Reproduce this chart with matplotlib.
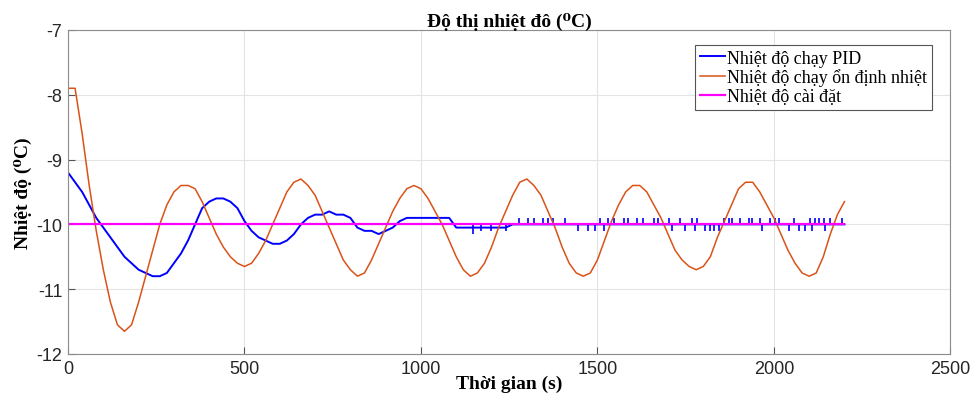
import matplotlib
matplotlib.use("Agg")
import matplotlib.pyplot as plt
import numpy as np

plt.rcParams['axes.unicode_minus'] = False

# orange: "on dinh nhiet" run, sampled every 20 s
orange_t = list(range(0, 2201, 20))
orange_v = [-7.9, -7.9, -8.6, -9.4, -10.1, -10.7, -11.2, -11.55, -11.65, -11.55,
            -11.2, -10.8, -10.4, -10.0, -9.7, -9.5, -9.4, -9.4, -9.45, -9.65,
            -9.9, -10.15, -10.35, -10.5, -10.6, -10.65, -10.6, -10.45, -10.25, -10.0,
            -9.75, -9.5, -9.35, -9.3, -9.4, -9.55, -9.8, -10.05, -10.3, -10.55,
            -10.7, -10.8, -10.75, -10.55, -10.3, -10.05, -9.8, -9.6, -9.45, -9.4,
            -9.45, -9.6, -9.8, -10.0, -10.25, -10.5, -10.7, -10.8, -10.75, -10.6,
            -10.35, -10.05, -9.8, -9.55, -9.35, -9.3, -9.4, -9.55, -9.8, -10.05,
            -10.35, -10.6, -10.75, -10.8, -10.75, -10.55, -10.25, -9.95, -9.7, -9.5,
            -9.4, -9.4, -9.5, -9.7, -9.9, -10.15, -10.4, -10.55, -10.65, -10.7,
            -10.65, -10.5, -10.2, -9.95, -9.7, -9.45, -9.35, -9.35, -9.5, -9.7,
            -9.9, -10.15, -10.4, -10.6, -10.75, -10.8, -10.75, -10.5, -10.15, -9.85,
            -9.65]

# blue: PID run
pid_t = [0, 20, 40, 60, 80, 100, 120, 140, 160, 180, 200, 220, 240, 260, 280,
         300, 320, 340, 360, 380, 400, 420, 440, 460, 480, 500, 520, 540, 560, 580,
         600, 620, 640, 660, 680, 700, 720, 740, 760, 780, 800, 820, 840, 860, 880,
         900, 920, 940, 960, 1080, 1100, 1240, 1260, 2200]
pid_v = [-9.2, -9.35, -9.5, -9.7, -9.9, -10.05, -10.2, -10.35, -10.5, -10.6,
         -10.7, -10.75, -10.8, -10.8, -10.75, -10.6, -10.45, -10.25, -10.0, -9.75,
         -9.65, -9.6, -9.6, -9.65, -9.75, -9.95, -10.1, -10.2, -10.25, -10.3,
         -10.3, -10.25, -10.15, -10.0, -9.9, -9.85, -9.85, -9.8, -9.85, -9.85,
         -9.9, -10.05, -10.1, -10.1, -10.15, -10.1, -10.05, -9.95, -9.9, -9.9,
         -10.05, -10.05, -10.0, -10.0]

# single-sample jumps of the PID curve around the set point
spike_t = [1147, 1170, 1199, 1241, 1278, 1304, 1321, 1346, 1360, 1375, 1407, 1446,
           1474, 1492, 1506, 1520, 1531, 1548, 1574, 1588, 1611, 1630, 1659, 1673,
           1702, 1710, 1733, 1747, 1767, 1776, 1781, 1804, 1818, 1829, 1844, 1858,
           1872, 1881, 1904, 1929, 1938, 1960, 1966, 1989, 2003, 2014, 2043, 2057,
           2071, 2088, 2102, 2108, 2117, 2128, 2142, 2145, 2159, 2193]
spike_v = [-10.15, -10.1, -10.1, -10.1, -9.9, -9.9, -9.9, -9.9, -9.9, -9.9, -9.9, -10.1,
           -10.1, -10.1, -9.9, -10.1, -9.9, -9.9, -9.9, -9.9, -9.9, -9.9, -9.9, -9.9,
           -9.9, -10.1, -9.9, -10.1, -9.9, -10.1, -9.9, -10.1, -10.1, -10.1, -10.1, -9.9,
           -9.9, -9.9, -9.9, -9.9, -9.9, -9.9, -10.1, -9.9, -9.9, -9.9, -10.1, -9.9,
           -10.1, -10.1, -9.9, -10.1, -9.9, -9.9, -9.9, -10.1, -9.9, -9.9]

setpoint_t = [0, 2200]
setpoint_v = [-10, -10]

serif = ['Liberation Serif', 'DejaVu Serif']
sans = ['Liberation Sans', 'DejaVu Sans']

fig = plt.figure(figsize=(9.76, 4.02), dpi=100)
ax = fig.add_axes([0.0697, 0.117, 0.904, 0.806])

ax.plot(pid_t, pid_v, color='#0000ff', lw=1.4, label='Nhiệt độ chạy PID')
ax.vlines(spike_t, -10, spike_v, color='#0000ff', lw=1.2)
ax.plot(orange_t, orange_v, color='#d95319', lw=1.1, label='Nhiệt độ chạy ổn định nhiệt')
ax.plot(setpoint_t, setpoint_v, color='#ff00ff', lw=1.6, label='Nhiệt độ cài đặt')

ax.set_xlim(0, 2500)
ax.set_ylim(-12, -7)
ax.set_xticks([0, 500, 1000, 1500, 2000, 2500])
ax.set_yticks([-12, -11, -10, -9, -8, -7])
ax.grid(True, color='#e3e3e3', lw=0.8)
ax.set_axisbelow(True)
for s in ax.spines.values():
    s.set_color('#8c8c8c')
    s.set_linewidth(0.8)
ax.tick_params(direction='in', length=5, color='#555555', labelcolor='#262626',
               labelsize=13, pad=4)
for lab in ax.get_xticklabels() + ax.get_yticklabels():
    lab.set_family(sans)

ax.set_title('Độ thị nhiệt đô (⁰C)', family=serif, fontweight='bold', fontsize=14, pad=3)
ax.set_xlabel('Thời gian (s)', family=serif, fontweight='bold', fontsize=14, labelpad=-1)
ax.set_ylabel('Nhiệt độ (⁰C)', family=serif, fontweight='bold', fontsize=14, labelpad=3)

leg = ax.legend(loc='upper right', prop={'family': serif, 'size': 13},
                handlelength=1.4, handletextpad=0.1, borderpad=0.25,
                labelspacing=0.1, fancybox=False, framealpha=1,
                bbox_to_anchor=(0.989, 0.981))
leg.get_frame().set_edgecolor('#555555')
leg.get_frame().set_linewidth(0.8)

fig.savefig('out.png', dpi=100)
